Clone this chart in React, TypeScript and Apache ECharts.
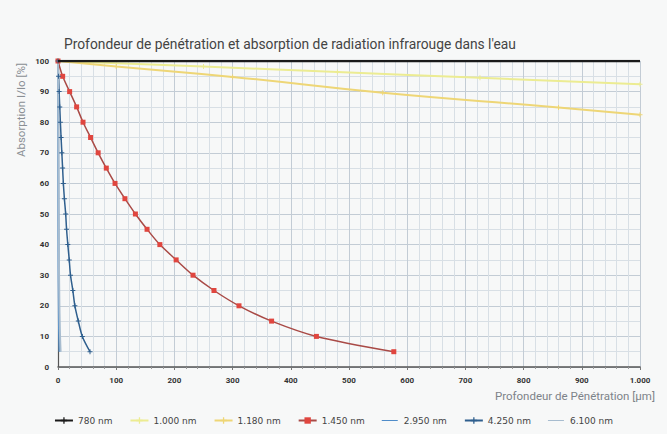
import React, { useEffect, useRef } from "react";
import * as echarts from "echarts";

const yLevels = [100, 95, 90, 85, 80, 75, 70, 65, 60, 55, 50, 45, 40, 35, 30, 25, 20, 15, 10, 5];
const depth1450 = [0, 8, 20, 32, 43, 56, 69, 83, 98, 115, 133, 153, 175, 203, 232, 268, 311, 367, 444, 577];
const depth4250 = [0, 0.9, 1.9, 3.0, 4.1, 5.3, 6.6, 7.9, 9.2, 11, 13.2, 14.7, 16.9, 19.3, 21.5, 25.5, 29, 34.9, 41.8, 55];
const depth2950 = [0, 0.05, 0.1, 0.15, 0.2, 0.25, 0.3, 0.35, 0.45, 0.5, 0.6, 0.7, 0.8, 0.9, 1.0, 1.2, 1.4, 1.6, 2.0, 2.6];
const depth6100 = [0, 0.1, 0.2, 0.3, 0.4, 0.5, 0.6, 0.7, 0.8, 0.9, 1.0, 1.2, 1.4, 1.6, 1.8, 2.1, 2.4, 2.9, 3.5, 4.5];
const depth780 = [0, 1000];
const val780 = [100, 100];
const depth1000 = [0, 250, 480, 725, 1000];
const val1000 = [100, 98.2, 96.4, 94.5, 92.4];
const depth1180 = [0, 100, 300, 558, 860, 1000];
const val1180 = [100, 98.2, 94.8, 89.6, 84.8, 82.4];
const xTicks = [0, 100, 200, 300, 400, 500, 600, 700, 800, 900, 1000];
const xTickLabels = ["0", "100", "200", "300", "400", "500", "600", "700", "800", "900", "1.000"];

const zip = (xs: number[], ys: number[]) => xs.map((x, i) => [x, ys[i]]);
const plus = "path://M4,0H6V4H10V6H6V10H4V6H0V4H4Z";
const lineIcon = "path://M0,0H20V0.05H0Z M0,4.3H20V5.7H0Z M0,9.95H20V10H0Z";

const c2950 = "#4f8cc9";
const c6100 = "#a7bccf";

export default function App() {
  const ref = useRef<HTMLDivElement>(null);
  useEffect(() => {
    if (!ref.current) return;
    const chart = echarts.init(ref.current, null, { renderer: "svg" });
    const font = "Roboto";
    chart.setOption({
      animation: false,
      backgroundColor: "#f7f8f8",
      textStyle: { fontFamily: font },
      title: {
        text: "Profondeur de pénétration et absorption de radiation infrarouge dans l'eau",
        left: 59,
        top: 32,
        textStyle: { fontSize: 13.8, fontWeight: "normal", color: "#444", fontFamily: font },
      },
      legend: {
        left: "center",
        top: 411,
        itemWidth: 18,
        itemHeight: 8,
        itemGap: 17,
        textStyle: { fontSize: 9, color: "#444", fontFamily: "DejaVu Sans" },
        data: [
          "780 nm",
          "1.000 nm",
          "1.180 nm",
          "1.450 nm",
          { name: "2.950 nm", icon: lineIcon, itemStyle: { color: c2950, borderWidth: 0 } },
          "4.250 nm",
          { name: "6.100 nm", icon: lineIcon, itemStyle: { color: c6100, borderWidth: 0 } },
        ],
      },
      graphic: [
        {
          type: "text",
          left: 15,
          top: 63,
          rotation: Math.PI / 2,
          style: { text: "Absorption I/Io [%]", fontSize: 11.5, fill: "#8a8f94", fontFamily: font },
        },
        {
          type: "text",
          right: 12,
          top: 390,
          style: { text: "Profondeur de Pénétration [µm]", fontSize: 11.5, fill: "#7d8389", fontFamily: font },
        },
      ],
      grid: { left: 58, right: 27, top: 61, bottom: 67, containLabel: false },
      xAxis: {
        type: "value",
        min: 0,
        max: 1000,
        interval: 100,
        axisLine: { show: true, lineStyle: { color: "#555", width: 1.5 } },
        axisTick: { show: true, length: 3, lineStyle: { color: "#777" } },
        minorTick: { show: true, splitNumber: 5, length: 2, lineStyle: { color: "#999" } },
        axisLabel: {
          fontSize: 8,
          color: "#333",
          fontWeight: "bold",
          margin: 9,
          formatter: (v: number) => {
            const i = xTicks.indexOf(v);
            return i >= 0 ? xTickLabels[i] : String(v);
          },
        },
        splitLine: { show: true, lineStyle: { color: "#c3ccd5", width: 1 } },
        minorSplitLine: { show: true, lineStyle: { color: "#d8dfe5", width: 1 } },
      },
      yAxis: {
        type: "value",
        min: 0,
        max: 100,
        interval: 10,
        axisLine: { show: true, lineStyle: { color: "#555", width: 1.2 } },
        axisTick: { show: false },
        axisLabel: { fontSize: 8, color: "#333", fontWeight: "bold", margin: 9 },
        splitLine: { show: true, lineStyle: { color: "#c3ccd5", width: 1 } },
        minorTick: { show: false, splitNumber: 2 },
        minorSplitLine: { show: true, lineStyle: { color: "#d8dfe5", width: 1 } },
      },
      series: [
        {
          name: "780 nm",
          type: "line",
          data: zip(depth780, val780),
          symbol: plus,
          symbolSize: 6,
          showSymbol: false,
          itemStyle: { color: "#1a1a1a" },
          lineStyle: { color: "#1a1a1a", width: 2.5 },
          z: 5,
        },
        {
          name: "1.000 nm",
          type: "line",
          data: zip(depth1000, val1000),
          symbol: plus,
          symbolSize: 5,
          smooth: true,
          itemStyle: { color: "#ecec92" },
          lineStyle: { color: "#ecec92", width: 2 },
        },
        {
          name: "1.180 nm",
          type: "line",
          data: zip(depth1180, val1180),
          symbol: plus,
          symbolSize: 5,
          smooth: true,
          itemStyle: { color: "#eed676" },
          lineStyle: { color: "#eed676", width: 2 },
        },
        {
          name: "1.450 nm",
          type: "line",
          data: zip(depth1450, yLevels),
          symbol: "rect",
          symbolSize: 5,
          smooth: 0.3,
          itemStyle: { color: "#e0463f" },
          lineStyle: { color: "#a94a46", width: 1.5 },
        },
        {
          name: "2.950 nm",
          type: "line",
          data: zip(depth2950, yLevels),
          symbol: "none",
          smooth: true,
          itemStyle: { color: c2950 },
          lineStyle: { color: c2950, width: 2 },
        },
        {
          name: "4.250 nm",
          type: "line",
          data: zip(depth4250, yLevels),
          symbol: plus,
          symbolSize: 5,
          smooth: 0.3,
          itemStyle: { color: "#2f5f8e" },
          lineStyle: { color: "#2f5f8e", width: 1.5 },
        },
        {
          name: "6.100 nm",
          type: "line",
          data: zip(depth6100, yLevels),
          symbol: "none",
          smooth: true,
          itemStyle: { color: c6100 },
          lineStyle: { color: c6100, width: 2 },
        },
      ],
    });
    return () => chart.dispose();
  }, []);
  return (
    <div
      ref={ref}
      style={{ position: "absolute", left: 0, top: 0, width: 667, height: 434 }}
    />
  );
}
